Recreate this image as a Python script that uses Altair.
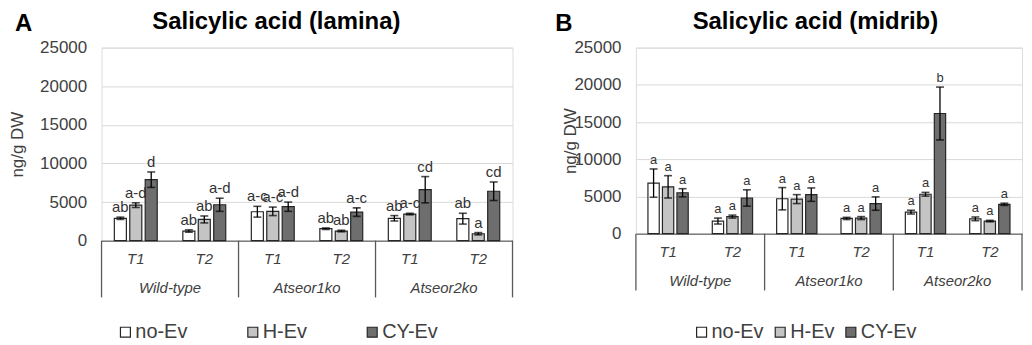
import altair as alt
import pandas as pd

genotypes = ["Wild-type", "Atseor1ko", "Atseor2ko"]
times = ["T1", "T2"]
treatments = ["no-Ev", "H-Ev", "CY-Ev"]
panel_letters = ["A", "B"]
titles = ["Salicylic acid (lamina)", "Salicylic acid (midrib)"]

# order: genotype > time > treatment
lamina_mean = [2900, 4600, 7900, 1250, 2750, 4650,
               3750, 3800, 4400, 1550, 1250, 3700,
               2900, 3450, 6600, 2850, 900, 6400]
lamina_err = [150, 300, 1000, 150, 450, 850,
              700, 550, 600, 100, 100, 550,
              350, 100, 1700, 700, 150, 1200]
lamina_letters = ["ab", "a-d", "d", "ab", "ab", "a-d",
                  "a-c", "a-c", "a-d", "ab", "ab", "a-c",
                  "ab", "a-c", "cd", "ab", "a", "cd"]

midrib_mean = [6800, 6300, 5500, 1700, 2300, 4800,
               4700, 4650, 5250, 2050, 2100, 4050,
               2900, 5300, 16150, 2000, 1700, 3950]
midrib_err = [1900, 1500, 550, 400, 200, 1100,
              1500, 600, 900, 150, 200, 900,
              250, 250, 3550, 250, 100, 150]
midrib_letters = ["a", "a", "a", "a", "a", "a",
                  "a", "a", "a", "a", "a", "a",
                  "a", "a", "b", "a", "a", "a"]

y_ticks = [0, 5000, 10000, 15000, 20000, 25000]
fill_colors = ["#ffffff", "#c4c4c4", "#6e6e6e"]

gt_order = [g + "|" + t for g in genotypes for t in times]
TXT = "#404040"


def make_df(mean, err, letters):
    rows = []
    i = 0
    for g in genotypes:
        for t in times:
            for tr in treatments:
                rows.append(dict(genotype=g, time=t, treatment=tr, gt=g + "|" + t,
                                 mean=mean[i], lo=mean[i] - err[i], hi=mean[i] + err[i],
                                 letter=letters[i]))
                i += 1
    return pd.DataFrame(rows)


def panel(mean, err, letters, title, pletter, width, height, title_dx,
          legend_x, col_pad, letter_size, ytitle_pad, letter_x):
    df = make_df(mean, err, letters)
    xaxis = alt.Axis(title=None, labelExpr="split(datum.label,'|')[1]",
                     labelFontStyle="italic", labelFontSize=15, labelColor=TXT,
                     labelAngle=0, ticks=False, domain=True, domainColor="#7f7f7f",
                     domainWidth=1.5, grid=False, labelPadding=11)
    xscale = alt.Scale(domain=gt_order, paddingInner=0, paddingOuter=0)

    def X(bp=None):
        if bp is None:
            return alt.X("gt:N", scale=xscale, axis=xaxis)
        return alt.X("gt:N", scale=xscale, axis=xaxis, bandPosition=bp)

    xo = alt.XOffset("treatment:N", sort=treatments,
                     scale=alt.Scale(domain=treatments, paddingInner=0.22, paddingOuter=0.83))
    yscale = alt.Scale(domain=[0, 25000], nice=False)
    yaxis = alt.Axis(values=y_ticks, format="d", title="ng/g DW", titleFontSize=17,
                     titleFontWeight="normal", titleColor=TXT, labelFontSize=17,
                     labelColor=TXT, labelPadding=15, ticks=False, domain=False,
                     labelOverlap=False, grid=True, gridColor="#d9d9d9", gridWidth=1,
                     titlePadding=ytitle_pad)

    def Y(field):
        return alt.Y(field, scale=yscale, axis=yaxis)

    base = alt.Chart(df)
    bars = base.mark_bar(stroke="#262626", strokeWidth=1.2).encode(
        x=X(), xOffset=xo,
        y=Y("mean:Q"),
        fill=alt.Fill("treatment:N", sort=treatments,
                      scale=alt.Scale(domain=treatments, range=fill_colors),
                      legend=alt.Legend(title=None, orient="none", legendX=legend_x,
                                        legendY=276, direction="horizontal",
                                        symbolType="square", symbolSize=100,
                                        symbolStrokeColor="#262626", symbolStrokeWidth=1.2,
                                        labelFontSize=20, labelColor=TXT, labelOffset=0,
                                        columnPadding=col_pad, padding=0)),
    )
    rules = base.mark_rule(color="black", strokeWidth=1.3).encode(
        x=X(), xOffset=xo, y=Y("lo:Q"), y2="hi:Q")
    tick_hi = base.mark_tick(color="black", thickness=1.6, size=8).encode(
        x=X(), xOffset=xo, y=Y("hi:Q"))
    tick_lo = base.mark_tick(color="black", thickness=1.6, size=8).encode(
        x=X(), xOffset=xo, y=Y("lo:Q"))
    sig = base.mark_text(baseline="bottom", dy=-2, fontSize=letter_size, color="#333333").encode(
        x=X(), xOffset=xo, y=Y("hi:Q"), text="letter:N")

    gdf = pd.DataFrame({"genotype": genotypes, "gt": [g + "|T1" for g in genotypes]})
    sep_left = alt.Chart(gdf).mark_rule(color="#595959", strokeWidth=1.3).encode(
        x=X(0), y=alt.value(height), y2=alt.value(height + 57))
    edf = pd.DataFrame({"gt": [genotypes[-1] + "|T2"]})
    sep_right = alt.Chart(edf).mark_rule(color="#595959", strokeWidth=1.3).encode(
        x=X(1), y=alt.value(height), y2=alt.value(height + 57))
    geno_text = alt.Chart(gdf).mark_text(fontSize=15, fontStyle="italic", color=TXT,
                                         baseline="alphabetic").encode(
        x=X(1), y=alt.value(height + 53), text="genotype:N")

    ldf = pd.DataFrame({"p": [pletter]})
    letter_mark = alt.Chart(ldf).mark_text(fontSize=24, fontWeight="bold", color="black",
                                           align="left", baseline="alphabetic").encode(
        x=alt.value(letter_x), y=alt.value(-17), text="p:N")

    return alt.layer(bars, rules, tick_hi, tick_lo, sig, sep_left, sep_right,
                     geno_text, letter_mark).properties(
        width=width, height=height,
        title=alt.Title(title, fontSize=24, fontWeight="bold", anchor="start",
                        frame="group", dx=title_dx, offset=-22, color="black"))


pa = panel(lamina_mean, lamina_err, lamina_letters, titles[0], panel_letters[0],
           413, 194, 51, 14, 55, 15, 13, -87)
pb = panel(midrib_mean, midrib_err, midrib_letters, titles[1], panel_letters[1],
           388, 187, 57, 56, 6, 13, -6, -81)

chart = alt.hconcat(pa, pb, spacing=40).resolve_scale(
    fill="independent", x="independent", y="independent", xOffset="independent"
).resolve_legend(fill="independent").properties(
    padding={"left": 0, "top": 0, "right": 0, "bottom": 0}
).configure_view(stroke=None).configure(font="Liberation Sans")

chart.save("out.html", embed_options={"renderer": "svg", "actions": False})
